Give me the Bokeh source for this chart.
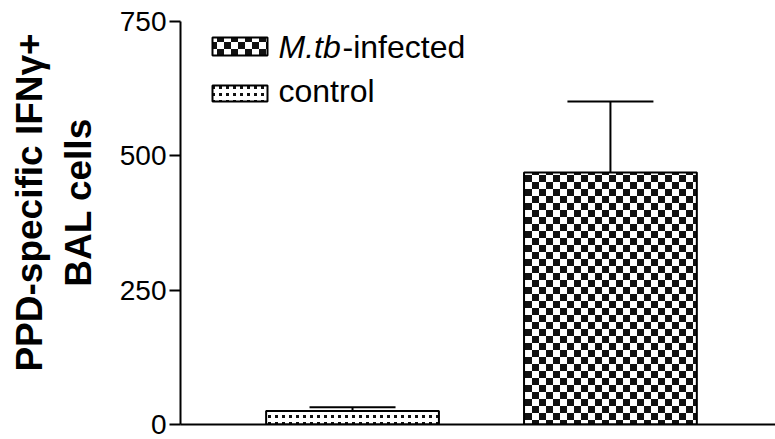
from urllib.parse import quote
from bokeh.plotting import figure
from bokeh.models import (ColumnDataSource, Range1d, FixedTicker, Whisker, TeeHead,
                          Label, BoxAnnotation, ImageURLTexture)
from bokeh.embed import file_html
from bokeh.resources import INLINE

# ---- data ----
categories = ["control", "M.tb-infected"]
means = [25, 469]
sems = [7, 132]
patterns = ["dots", "checker"]
y_ticks = [0, 250, 500, 750]

xs = [i + 1 for i in range(len(categories))]
uppers = [m + s for m, s in zip(means, sems)]

src = ColumnDataSource(data=dict(x=xs, mean=means, upper=uppers, lower=means,
                                 pat=patterns, cat=categories))


def svg_url(body):
    svg = ("<svg xmlns='http://www.w3.org/2000/svg' width='14' height='14' "
           "shape-rendering='crispEdges'>" + body + "</svg>")
    return "data:image/svg+xml;charset=utf-8," + quote(svg)


checker = ImageURLTexture(url=svg_url(
    "<rect x='0' y='0' width='7' height='7' fill='#111'/>"
    "<rect x='7' y='7' width='7' height='7' fill='#111'/>"))
dots = ImageURLTexture(url=svg_url(
    "<rect x='2' y='2' width='3' height='3' fill='#111'/>"
    "<rect x='9' y='2' width='3' height='3' fill='#111'/>"
    "<rect x='2' y='9' width='3' height='3' fill='#111'/>"
    "<rect x='9' y='9' width='3' height='3' fill='#111'/>"))
extra = {"checker": checker, "dots": dots}

p = figure(width=775, height=439, output_backend="svg", toolbar_location=None,
           x_range=Range1d(0.333, 2.64), y_range=Range1d(0, 750),
           min_border_left=180, min_border_right=0, min_border_top=21,
           min_border_bottom=15, background_fill_color="white",
           border_fill_color="white")
p.outline_line_color = None
p.grid.visible = False

p.vbar(x="x", top="mean", bottom=0, width=0.67, source=src,
       fill_color="white", line_color="black", line_width=2,
       hatch_pattern="pat", hatch_extra=extra, hatch_color="#111111")

wh = Whisker(base="x", upper="upper", lower="lower", source=src,
             line_color="black", line_width=2,
             upper_head=TeeHead(size=86, line_color="black", line_width=2),
             lower_head=None)
p.add_layout(wh)

# axes
p.yaxis.ticker = FixedTicker(ticks=y_ticks)
p.yaxis.major_label_text_font = "Liberation Sans"
p.yaxis.major_label_text_font_size = "28px"
p.yaxis.major_label_text_color = "black"
p.yaxis.major_tick_in = 0
p.yaxis.major_tick_out = 11
p.yaxis.major_label_standoff = 3
p.yaxis.minor_tick_line_color = None
p.yaxis.axis_line_width = 2
p.yaxis.major_tick_line_width = 2
p.yaxis.axis_line_color = "black"
p.yaxis.major_tick_line_color = "black"

nb = "\u00a0" * 4
p.yaxis.axis_label = nb + "PPD-specific IFNγ+\n" + nb + "BAL cells"
p.yaxis.axis_label_text_font = "Liberation Sans"
p.yaxis.axis_label_text_font_style = "bold"
p.yaxis.axis_label_text_font_size = "37px"
p.yaxis.axis_label_text_color = "black"
p.yaxis.axis_label_standoff = 18
p.yaxis.axis_label_text_line_height = 1.2

p.xaxis.ticker = FixedTicker(ticks=[])
p.xaxis.minor_tick_line_color = None
p.xaxis.major_label_text_font_size = "0px"
p.xaxis.axis_line_width = 2
p.xaxis.axis_line_color = "black"

# legend
for top, bottom, pat in [(387, 369, "checker"), (339, 323, "dots")]:
    p.add_layout(BoxAnnotation(left=32, right=87, top=top, bottom=bottom,
                               left_units="screen", right_units="screen",
                               top_units="screen", bottom_units="screen",
                               fill_color="white", fill_alpha=1,
                               line_color="black", line_width=2, line_alpha=1,
                               hatch_pattern=pat, hatch_extra=extra,
                               hatch_color="#111111"))

lab = dict(x_units="screen", y_units="screen", text_font="Liberation Sans",
           text_font_size="32px", text_color="black", text_baseline="middle")
p.add_layout(Label(x=98, y=378, text="M.tb", text_font_style="italic", **lab))
p.add_layout(Label(x=162, y=378, text="-infected", **lab))
p.add_layout(Label(x=98, y=334, text="control", **lab))

open("out.html", "w").write(file_html(p, INLINE))
